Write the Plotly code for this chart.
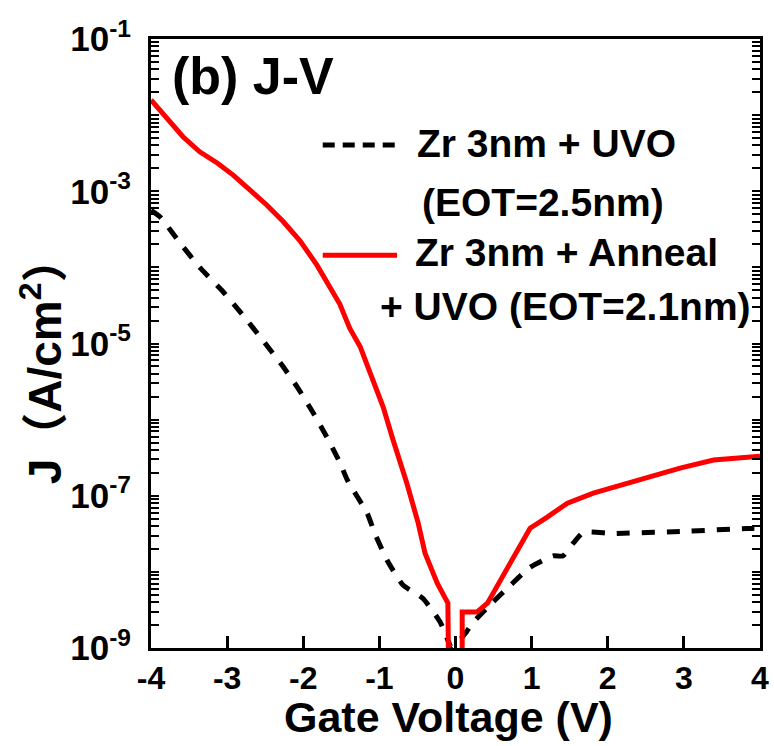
import plotly.graph_objects as go

# ---- data ----
v_uvo = [-4.00, -3.88, -3.62, -3.36, -3.07, -2.79, -2.53, -2.28, -2.07, -1.87, -1.69, -1.52,
         -1.42, -1.16, -1.06, -0.90, -0.69, -0.43, -0.20, -0.10, -0.05, 0.13, 0.22, 0.48,
         0.73, 0.98, 1.28, 1.41, 1.55, 1.68, 2.07, 2.95, 3.83, 4.00]
j_uvo = [5.6e-4, 4.6e-4, 2.1e-4, 1.0e-4, 5.0e-5, 2.34e-5, 1.10e-5, 5.2e-6, 2.6e-6, 1.23e-6,
         5.9e-7, 2.75e-7, 1.6e-7, 5.9e-8, 3.2e-8, 1.43e-8, 6.7e-9, 4.5e-9, 2.18e-9, 1.26e-9,
         1.0e-9, 1.56e-9, 2.1e-9, 3.9e-9, 6.8e-9, 1.15e-8, 1.62e-8, 1.62e-8, 2.4e-8, 3.3e-8,
         3.2e-8, 3.4e-8, 3.7e-8, 3.7e-8]

v_ann = [-4.00, -3.79, -3.58, -3.36, -3.13, -2.92, -2.70, -2.48, -2.27, -2.04, -1.82, -1.69,
         -1.52, -1.39, -1.25, -1.12, -0.95, -0.82, -0.64, -0.49, -0.40, -0.24, -0.10, -0.084,
         0.087, 0.088, 0.28, 0.42, 0.59, 0.85, 0.98, 1.20, 1.47, 1.81, 2.33, 2.95, 3.39, 4.00]
j_ann = [1.58e-2, 9.2e-3, 5.2e-3, 3.3e-3, 2.35e-3, 1.63e-3, 1.04e-3, 6.6e-4, 4.06e-4, 2.22e-4,
         1.07e-4, 6.6e-5, 3.3e-5, 1.59e-5, 8.97e-6, 4.08e-6, 1.46e-6, 5.4e-7, 1.47e-7, 4.37e-8,
         1.76e-8, 7.1e-9, 3.88e-9, 1.0e-10, 1.0e-10, 2.96e-9, 2.96e-9, 3.88e-9, 7.8e-9, 2.11e-8,
         3.75e-8, 5.2e-8, 8.0e-8, 1.08e-7, 1.51e-7, 2.31e-7, 2.94e-7, 3.31e-7]

x_ticks = [-4, -3, -2, -1, 0, 1, 2, 3, 4]
x_ticktext = ["-4", "-3", "-2", "-1", "0", "1", "2", "3", "4"]
y_decades = [1e-9, 1e-8, 1e-7, 1e-6, 1e-5, 1e-4, 1e-3, 1e-2, 1e-1]
y_labels = {1e-9: "10<sup>-9</sup>", 1e-7: "10<sup>-7</sup>", 1e-5: "10<sup>-5</sup>",
            1e-3: "10<sup>-3</sup>", 1e-1: "10<sup>-1</sup>"}

name_uvo = ["Zr 3nm + UVO", "(EOT=2.5nm)"]
name_ann = ["Zr 3nm + Anneal", "+ UVO (EOT=2.1nm)"]
panel_label = "(b) J-V"
x_title = "Gate Voltage (V)"
y_title = "J（A/cm<sup>2</sup>）"

# every decade plus the 2..9 sub-divisions as ticks; labels only on odd decades
y_tickvals, y_ticktext = [], []
for d in y_decades:
    y_tickvals.append(d)
    y_ticktext.append(y_labels.get(d, ""))
    if d < y_decades[-1]:
        for m in range(2, 10):
            y_tickvals.append(m * d)
            y_ticktext.append("")

FONT = "Liberation Sans, Arial, Helvetica, sans-serif"
YFONT = "Liberation Sans, Arial, Noto Sans CJK SC, sans-serif"

fig = go.Figure()
fig.add_trace(go.Scatter(x=v_uvo, y=j_uvo, mode="lines", name=name_uvo[0],
                         line=dict(color="black", width=5, dash="13px,12px",
                                   shape="spline", smoothing=0.5)))
fig.add_trace(go.Scatter(x=v_ann, y=j_ann, mode="lines", name=name_ann[0],
                         line=dict(color="#ff0000", width=5)))

fig.update_layout(
    width=774, height=746,
    margin=dict(l=151, r=14, t=39, b=98, autoexpand=False),
    paper_bgcolor="white", plot_bgcolor="white",
    showlegend=False,
    font=dict(family=FONT, color="black", size=32, weight="bold"),
    xaxis=dict(
        range=[-4, 4], tickmode="array", tickvals=x_ticks, ticktext=x_ticktext,
        ticks="inside", ticklen=12, tickwidth=2.5, tickcolor="black",
        showline=True, linecolor="black", linewidth=3, mirror=True,
        showgrid=False, zeroline=False, automargin=False,
        tickfont=dict(family=FONT, size=32, color="black", weight="bold"),
    ),
    yaxis=dict(
        type="log", range=[-9, -1], tickmode="array", tickvals=y_tickvals, ticktext=y_ticktext,
        ticks="inside", ticklen=8, tickwidth=2, tickcolor="black",
        showline=True, linecolor="black", linewidth=3, mirror="ticks",
        showgrid=False, zeroline=False, automargin=False, ticklabelstandoff=10,
        tickfont=dict(family=FONT, size=35, color="black", weight="bold"),
    ),
)

# legend samples (drawn in paper coordinates)
fig.add_shape(type="line", xref="paper", yref="paper", x0=0.282, x1=0.404, y0=0.826, y1=0.826,
              line=dict(color="black", width=5, dash="12px,8px"))
fig.add_shape(type="line", xref="paper", yref="paper", x0=0.282, x1=0.404, y0=0.645, y1=0.645,
              line=dict(color="#ff0000", width=5))

def txt(s, x, y, size, xanchor="center", angle=0, family=FONT):
    fig.add_annotation(text=s, x=x, y=y, xref="paper", yref="paper", showarrow=False,
                       xanchor=xanchor, yanchor="middle", textangle=angle,
                       font=dict(family=family, size=size, color="black", weight="bold"))

txt(name_uvo[0], 0.650, 0.829, 39)
txt(name_uvo[1], 0.644, 0.731, 39)
txt(name_ann[0], 0.683, 0.650, 39)
txt(name_ann[1], 0.680, 0.560, 39)
txt(panel_label, 0.031, 0.939, 52, xanchor="left")
txt(x_title, 0.489, -0.113, 43)
txt(y_title, -0.180, 0.473, 46, angle=-90, family=YFONT)

fig.write_html("out.html",
               config={"displayModeBar": False},
               post_script="document.body.style.margin='0';document.body.style.padding='0';")
